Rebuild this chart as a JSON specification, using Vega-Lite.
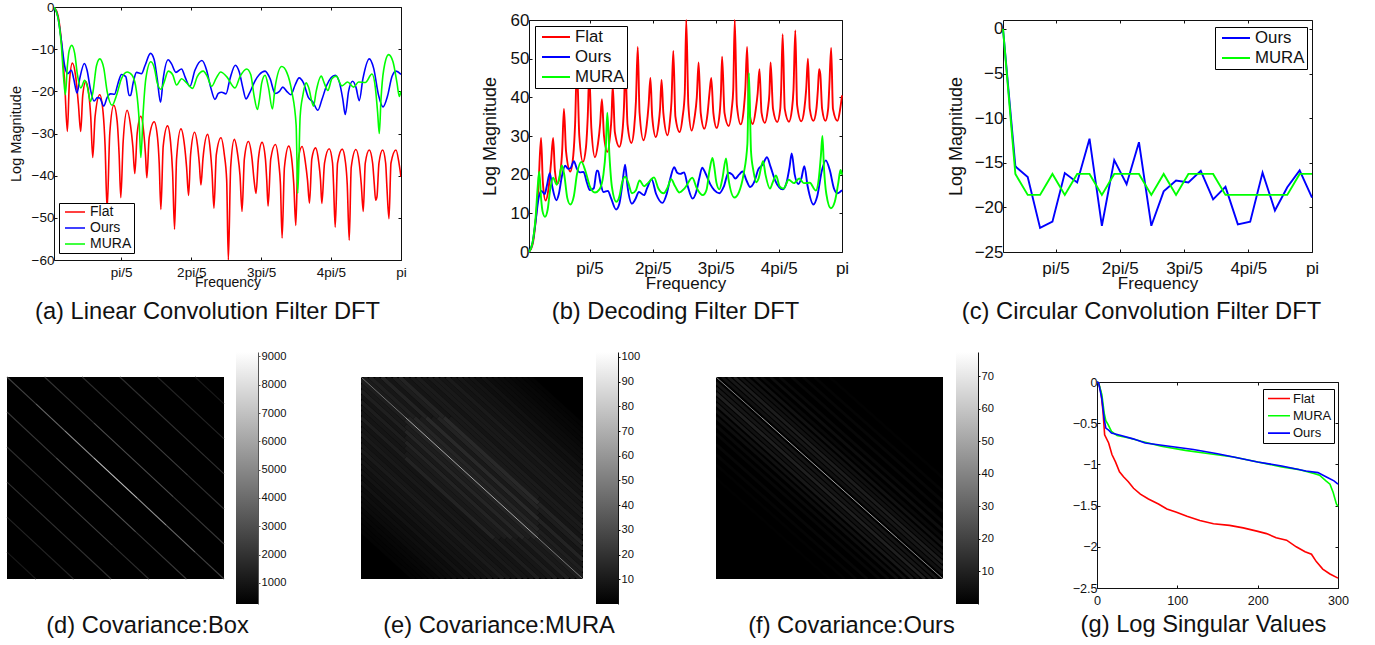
{"$schema":"https://vega.github.io/schema/vega-lite/v6.json","padding":{"left":0,"top":0,"right":0,"bottom":0},"background":"white","config":{"view":{"stroke":null},"font":"Liberation Sans","axis":{"grid":false,"labelFlush":false,"labelBound":false,"labelOverlap":false,"labelColor":"#111","titleColor":"#111","tickColor":"#111","domainColor":"#111","labelFontWeight":"normal","titleFontWeight":"normal"},"title":{"color":"#111"}},
"datasets":{
"a":[{"s":"Flat","k":0,"y":0},{"s":"Flat","k":12,"y":-2},{"s":"Flat","k":22,"y":-8},{"s":"Flat","k":32,"y":-18},{"s":"Flat","k":40,"y":-29.5},{"s":"Flat","k":46,"y":-18},{"s":"Flat","k":55,"y":-13.3},{"s":"Flat","k":65,"y":-16.5},{"s":"Flat","k":73,"y":-23},{"s":"Flat","k":80,"y":-29.5},{"s":"Flat","k":86,"y":-21},{"s":"Flat","k":95,"y":-17.7},{"s":"Flat","k":104,"y":-20.5},{"s":"Flat","k":110,"y":-26},{"s":"Flat","k":116,"y":-35.7},{"s":"Flat","k":123,"y":-26},{"s":"Flat","k":137,"y":-20.8},{"s":"Flat","k":147,"y":-25},{"s":"Flat","k":153,"y":-33},{"s":"Flat","k":159,"y":-48},{"s":"Flat","k":167,"y":-30},{"s":"Flat","k":179,"y":-23.3},{"s":"Flat","k":189,"y":-27},{"s":"Flat","k":195,"y":-35},{"s":"Flat","k":200,"y":-45.2},{"s":"Flat","k":207,"y":-32},{"s":"Flat","k":219,"y":-24.5},{"s":"Flat","k":229,"y":-28},{"s":"Flat","k":236,"y":-33},{"s":"Flat","k":242,"y":-39.5},{"s":"Flat","k":249,"y":-30},{"s":"Flat","k":260,"y":-25.9},{"s":"Flat","k":269,"y":-30},{"s":"Flat","k":274,"y":-35},{"s":"Flat","k":278,"y":-40.5},{"s":"Flat","k":285,"y":-31},{"s":"Flat","k":300,"y":-27.2},{"s":"Flat","k":310,"y":-31},{"s":"Flat","k":315,"y":-37},{"s":"Flat","k":320,"y":-48},{"s":"Flat","k":327,"y":-33},{"s":"Flat","k":340,"y":-28.2},{"s":"Flat","k":349,"y":-32},{"s":"Flat","k":355,"y":-39},{"s":"Flat","k":361,"y":-52.7},{"s":"Flat","k":367,"y":-36},{"s":"Flat","k":380,"y":-28.9},{"s":"Flat","k":391,"y":-33},{"s":"Flat","k":397,"y":-38},{"s":"Flat","k":403,"y":-44.7},{"s":"Flat","k":409,"y":-35},{"s":"Flat","k":421,"y":-29.7},{"s":"Flat","k":430,"y":-33},{"s":"Flat","k":435,"y":-37},{"s":"Flat","k":440,"y":-42.2},{"s":"Flat","k":446,"y":-36},{"s":"Flat","k":460,"y":-30.2},{"s":"Flat","k":468,"y":-34},{"s":"Flat","k":473,"y":-39},{"s":"Flat","k":479,"y":-47.7},{"s":"Flat","k":486,"y":-35},{"s":"Flat","k":500,"y":-31},{"s":"Flat","k":510,"y":-35},{"s":"Flat","k":517,"y":-41},{"s":"Flat","k":522,"y":-60},{"s":"Flat","k":529,"y":-38},{"s":"Flat","k":540,"y":-31.4},{"s":"Flat","k":550,"y":-35},{"s":"Flat","k":557,"y":-40},{"s":"Flat","k":563,"y":-48.5},{"s":"Flat","k":570,"y":-36},{"s":"Flat","k":582,"y":-31.9},{"s":"Flat","k":593,"y":-36},{"s":"Flat","k":599,"y":-41},{"s":"Flat","k":605,"y":-44.2},{"s":"Flat","k":612,"y":-36},{"s":"Flat","k":623,"y":-32.1},{"s":"Flat","k":633,"y":-36},{"s":"Flat","k":637,"y":-41},{"s":"Flat","k":641,"y":-47.2},{"s":"Flat","k":649,"y":-36},{"s":"Flat","k":663,"y":-32.6},{"s":"Flat","k":673,"y":-37},{"s":"Flat","k":678,"y":-42},{"s":"Flat","k":683,"y":-54.8},{"s":"Flat","k":690,"y":-38},{"s":"Flat","k":703,"y":-33},{"s":"Flat","k":713,"y":-37},{"s":"Flat","k":718,"y":-42},{"s":"Flat","k":724,"y":-51.8},{"s":"Flat","k":730,"y":-37},{"s":"Flat","k":743,"y":-33.1},{"s":"Flat","k":753,"y":-37},{"s":"Flat","k":759,"y":-41},{"s":"Flat","k":765,"y":-46.5},{"s":"Flat","k":772,"y":-36},{"s":"Flat","k":783,"y":-33.4},{"s":"Flat","k":793,"y":-37},{"s":"Flat","k":798,"y":-41},{"s":"Flat","k":802,"y":-46.6},{"s":"Flat","k":810,"y":-37},{"s":"Flat","k":824,"y":-33.6},{"s":"Flat","k":834,"y":-37},{"s":"Flat","k":837,"y":-42},{"s":"Flat","k":842,"y":-52.2},{"s":"Flat","k":849,"y":-37},{"s":"Flat","k":863,"y":-33.7},{"s":"Flat","k":873,"y":-37},{"s":"Flat","k":878,"y":-42},{"s":"Flat","k":884,"y":-55.3},{"s":"Flat","k":890,"y":-38},{"s":"Flat","k":904,"y":-33.8},{"s":"Flat","k":914,"y":-37},{"s":"Flat","k":920,"y":-42},{"s":"Flat","k":926,"y":-48.5},{"s":"Flat","k":932,"y":-37},{"s":"Flat","k":944,"y":-33.9},{"s":"Flat","k":954,"y":-37},{"s":"Flat","k":959,"y":-42},{"s":"Flat","k":963,"y":-45.8},{"s":"Flat","k":967,"y":-45},{"s":"Flat","k":973,"y":-37},{"s":"Flat","k":984,"y":-33.9},{"s":"Flat","k":993,"y":-37},{"s":"Flat","k":997,"y":-43},{"s":"Flat","k":1003,"y":-50.2},{"s":"Flat","k":1009,"y":-37},{"s":"Flat","k":1024,"y":-33.9},{"s":"Flat","k":1033,"y":-37},{"s":"Flat","k":1039,"y":-40.3},
{"s":"Ours","k":0,"y":0},{"s":"Ours","k":12,"y":-2.5},{"s":"Ours","k":22,"y":-8},{"s":"Ours","k":32,"y":-14},{"s":"Ours","k":41,"y":-15.8},{"s":"Ours","k":52,"y":-15},{"s":"Ours","k":59,"y":-17},{"s":"Ours","k":69,"y":-20.4},{"s":"Ours","k":77,"y":-17},{"s":"Ours","k":91,"y":-13.4},{"s":"Ours","k":99,"y":-15},{"s":"Ours","k":109,"y":-19.5},{"s":"Ours","k":120,"y":-22.3},{"s":"Ours","k":130,"y":-21.5},{"s":"Ours","k":137,"y":-21.6},{"s":"Ours","k":149,"y":-23.5},{"s":"Ours","k":159,"y":-21.5},{"s":"Ours","k":169,"y":-20.6},{"s":"Ours","k":181,"y":-20.7},{"s":"Ours","k":192,"y":-18},{"s":"Ours","k":202,"y":-16},{"s":"Ours","k":215,"y":-16.5},{"s":"Ours","k":225,"y":-21},{"s":"Ours","k":229,"y":-21},{"s":"Ours","k":237,"y":-18},{"s":"Ours","k":247,"y":-15.5},{"s":"Ours","k":262,"y":-15.8},{"s":"Ours","k":272,"y":-14},{"s":"Ours","k":289,"y":-11},{"s":"Ours","k":300,"y":-12.5},{"s":"Ours","k":309,"y":-17},{"s":"Ours","k":319,"y":-22.6},{"s":"Ours","k":327,"y":-17},{"s":"Ours","k":342,"y":-12.5},{"s":"Ours","k":352,"y":-13.5},{"s":"Ours","k":365,"y":-15.5},{"s":"Ours","k":382,"y":-14.7},{"s":"Ours","k":392,"y":-16.5},{"s":"Ours","k":407,"y":-18.8},{"s":"Ours","k":422,"y":-15},{"s":"Ours","k":443,"y":-12.7},{"s":"Ours","k":457,"y":-15},{"s":"Ours","k":469,"y":-19},{"s":"Ours","k":482,"y":-21.9},{"s":"Ours","k":492,"y":-20.5},{"s":"Ours","k":502,"y":-20.2},{"s":"Ours","k":515,"y":-20.6},{"s":"Ours","k":527,"y":-17},{"s":"Ours","k":543,"y":-13.8},{"s":"Ours","k":555,"y":-15.5},{"s":"Ours","k":565,"y":-19},{"s":"Ours","k":575,"y":-21.8},{"s":"Ours","k":585,"y":-20.5},{"s":"Ours","k":602,"y":-17.5},{"s":"Ours","k":615,"y":-16},{"s":"Ours","k":632,"y":-15.2},{"s":"Ours","k":647,"y":-17},{"s":"Ours","k":662,"y":-20.5},{"s":"Ours","k":675,"y":-20},{"s":"Ours","k":685,"y":-19},{"s":"Ours","k":697,"y":-20},{"s":"Ours","k":709,"y":-20.8},{"s":"Ours","k":722,"y":-18.5},{"s":"Ours","k":734,"y":-16.8},{"s":"Ours","k":747,"y":-18},{"s":"Ours","k":762,"y":-21.5},{"s":"Ours","k":775,"y":-22.5},{"s":"Ours","k":790,"y":-24.5},{"s":"Ours","k":802,"y":-22},{"s":"Ours","k":817,"y":-18.5},{"s":"Ours","k":842,"y":-16.2},{"s":"Ours","k":855,"y":-18},{"s":"Ours","k":865,"y":-22},{"s":"Ours","k":872,"y":-25.5},{"s":"Ours","k":882,"y":-20},{"s":"Ours","k":894,"y":-17.6},{"s":"Ours","k":904,"y":-19},{"s":"Ours","k":914,"y":-22.2},{"s":"Ours","k":925,"y":-17},{"s":"Ours","k":944,"y":-12.3},{"s":"Ours","k":957,"y":-14.5},{"s":"Ours","k":972,"y":-21},{"s":"Ours","k":985,"y":-23.7},{"s":"Ours","k":999,"y":-21},{"s":"Ours","k":1012,"y":-16.5},{"s":"Ours","k":1024,"y":-15.2},{"s":"Ours","k":1039,"y":-16},
{"s":"MURA","k":0,"y":0},{"s":"MURA","k":12,"y":-2.5},{"s":"MURA","k":22,"y":-9},{"s":"MURA","k":29,"y":-17},{"s":"MURA","k":34,"y":-20.8},{"s":"MURA","k":40,"y":-14},{"s":"MURA","k":45,"y":-10.5},{"s":"MURA","k":53,"y":-9.1},{"s":"MURA","k":62,"y":-11},{"s":"MURA","k":70,"y":-16},{"s":"MURA","k":80,"y":-19.2},{"s":"MURA","k":92,"y":-17.4},{"s":"MURA","k":100,"y":-19},{"s":"MURA","k":109,"y":-22.4},{"s":"MURA","k":117,"y":-20},{"s":"MURA","k":127,"y":-14},{"s":"MURA","k":137,"y":-12.3},{"s":"MURA","k":149,"y":-14.5},{"s":"MURA","k":159,"y":-20},{"s":"MURA","k":174,"y":-23.3},{"s":"MURA","k":187,"y":-21},{"s":"MURA","k":202,"y":-17},{"s":"MURA","k":219,"y":-15.4},{"s":"MURA","k":234,"y":-16.2},{"s":"MURA","k":247,"y":-20},{"s":"MURA","k":255,"y":-27},{"s":"MURA","k":260,"y":-35.7},{"s":"MURA","k":267,"y":-25},{"s":"MURA","k":275,"y":-17},{"s":"MURA","k":290,"y":-13},{"s":"MURA","k":302,"y":-15},{"s":"MURA","k":309,"y":-18},{"s":"MURA","k":320,"y":-19.5},{"s":"MURA","k":329,"y":-18},{"s":"MURA","k":342,"y":-15.2},{"s":"MURA","k":355,"y":-16},{"s":"MURA","k":367,"y":-18.5},{"s":"MURA","k":382,"y":-17},{"s":"MURA","k":397,"y":-18},{"s":"MURA","k":415,"y":-19.3},{"s":"MURA","k":429,"y":-16.5},{"s":"MURA","k":447,"y":-15.2},{"s":"MURA","k":459,"y":-16.5},{"s":"MURA","k":472,"y":-18.8},{"s":"MURA","k":485,"y":-17},{"s":"MURA","k":499,"y":-15.4},{"s":"MURA","k":517,"y":-16.5},{"s":"MURA","k":542,"y":-19.2},{"s":"MURA","k":557,"y":-16.5},{"s":"MURA","k":577,"y":-14.7},{"s":"MURA","k":589,"y":-16},{"s":"MURA","k":599,"y":-21},{"s":"MURA","k":609,"y":-24.3},{"s":"MURA","k":615,"y":-22},{"s":"MURA","k":622,"y":-18},{"s":"MURA","k":632,"y":-16.2},{"s":"MURA","k":642,"y":-19},{"s":"MURA","k":654,"y":-24.2},{"s":"MURA","k":662,"y":-19},{"s":"MURA","k":682,"y":-14.1},{"s":"MURA","k":697,"y":-15.5},{"s":"MURA","k":712,"y":-20},{"s":"MURA","k":725,"y":-28},{"s":"MURA","k":730,"y":-44.2},{"s":"MURA","k":737,"y":-26},{"s":"MURA","k":745,"y":-21},{"s":"MURA","k":755,"y":-18},{"s":"MURA","k":762,"y":-19},{"s":"MURA","k":777,"y":-23.5},{"s":"MURA","k":785,"y":-20},{"s":"MURA","k":800,"y":-16.4},{"s":"MURA","k":809,"y":-18},{"s":"MURA","k":820,"y":-19.8},{"s":"MURA","k":832,"y":-17},{"s":"MURA","k":845,"y":-16.4},{"s":"MURA","k":862,"y":-18.7},{"s":"MURA","k":879,"y":-17.8},{"s":"MURA","k":897,"y":-19},{"s":"MURA","k":912,"y":-17.8},{"s":"MURA","k":932,"y":-17.9},{"s":"MURA","k":952,"y":-15.9},{"s":"MURA","k":962,"y":-19},{"s":"MURA","k":969,"y":-25},{"s":"MURA","k":974,"y":-30},{"s":"MURA","k":979,"y":-22},{"s":"MURA","k":987,"y":-15},{"s":"MURA","k":1002,"y":-11.3},{"s":"MURA","k":1015,"y":-13},{"s":"MURA","k":1027,"y":-18},{"s":"MURA","k":1034,"y":-21.2},{"s":"MURA","k":1039,"y":-20}],
"b":[{"s":"Flat","k":0,"y":0},{"s":"Flat","k":12,"y":2},{"s":"Flat","k":22,"y":8},{"s":"Flat","k":32,"y":18},{"s":"Flat","k":40,"y":29.5},{"s":"Flat","k":46,"y":18},{"s":"Flat","k":55,"y":13.3},{"s":"Flat","k":65,"y":16.5},{"s":"Flat","k":73,"y":23},{"s":"Flat","k":80,"y":29.5},{"s":"Flat","k":86,"y":21},{"s":"Flat","k":95,"y":17.7},{"s":"Flat","k":104,"y":20.5},{"s":"Flat","k":110,"y":26},{"s":"Flat","k":116,"y":37},{"s":"Flat","k":123,"y":26},{"s":"Flat","k":137,"y":20.8},{"s":"Flat","k":147,"y":25},{"s":"Flat","k":153,"y":33},{"s":"Flat","k":159,"y":48},{"s":"Flat","k":167,"y":30},{"s":"Flat","k":179,"y":23.3},{"s":"Flat","k":189,"y":27},{"s":"Flat","k":195,"y":35},{"s":"Flat","k":200,"y":46},{"s":"Flat","k":207,"y":32},{"s":"Flat","k":219,"y":24.5},{"s":"Flat","k":229,"y":28},{"s":"Flat","k":236,"y":33},{"s":"Flat","k":242,"y":39.5},{"s":"Flat","k":249,"y":30},{"s":"Flat","k":260,"y":25.9},{"s":"Flat","k":269,"y":30},{"s":"Flat","k":274,"y":35},{"s":"Flat","k":278,"y":43},{"s":"Flat","k":285,"y":31},{"s":"Flat","k":300,"y":27.2},{"s":"Flat","k":310,"y":31},{"s":"Flat","k":315,"y":37},{"s":"Flat","k":320,"y":48},{"s":"Flat","k":327,"y":33},{"s":"Flat","k":340,"y":28.2},{"s":"Flat","k":349,"y":32},{"s":"Flat","k":355,"y":39},{"s":"Flat","k":361,"y":53},{"s":"Flat","k":367,"y":36},{"s":"Flat","k":380,"y":28.9},{"s":"Flat","k":391,"y":33},{"s":"Flat","k":397,"y":38},{"s":"Flat","k":403,"y":45},{"s":"Flat","k":409,"y":35},{"s":"Flat","k":421,"y":29.7},{"s":"Flat","k":430,"y":33},{"s":"Flat","k":435,"y":37},{"s":"Flat","k":440,"y":44.5},{"s":"Flat","k":446,"y":36},{"s":"Flat","k":460,"y":30.2},{"s":"Flat","k":468,"y":34},{"s":"Flat","k":473,"y":39},{"s":"Flat","k":479,"y":52},{"s":"Flat","k":486,"y":35},{"s":"Flat","k":500,"y":31},{"s":"Flat","k":510,"y":35},{"s":"Flat","k":517,"y":41},{"s":"Flat","k":522,"y":60},{"s":"Flat","k":529,"y":38},{"s":"Flat","k":540,"y":31.4},{"s":"Flat","k":550,"y":35},{"s":"Flat","k":557,"y":40},{"s":"Flat","k":563,"y":49},{"s":"Flat","k":570,"y":36},{"s":"Flat","k":582,"y":31.9},{"s":"Flat","k":593,"y":36},{"s":"Flat","k":599,"y":41},{"s":"Flat","k":605,"y":45},{"s":"Flat","k":612,"y":36},{"s":"Flat","k":623,"y":32.1},{"s":"Flat","k":633,"y":36},{"s":"Flat","k":637,"y":41},{"s":"Flat","k":641,"y":50.5},{"s":"Flat","k":649,"y":36},{"s":"Flat","k":663,"y":32.6},{"s":"Flat","k":673,"y":37},{"s":"Flat","k":678,"y":42},{"s":"Flat","k":683,"y":60},{"s":"Flat","k":690,"y":38},{"s":"Flat","k":703,"y":33},{"s":"Flat","k":713,"y":37},{"s":"Flat","k":718,"y":42},{"s":"Flat","k":724,"y":53},{"s":"Flat","k":730,"y":37},{"s":"Flat","k":743,"y":33.1},{"s":"Flat","k":753,"y":37},{"s":"Flat","k":759,"y":41},{"s":"Flat","k":765,"y":47.3},{"s":"Flat","k":772,"y":36},{"s":"Flat","k":783,"y":33.4},{"s":"Flat","k":793,"y":37},{"s":"Flat","k":798,"y":41},{"s":"Flat","k":802,"y":49},{"s":"Flat","k":810,"y":37},{"s":"Flat","k":824,"y":33.6},{"s":"Flat","k":834,"y":37},{"s":"Flat","k":837,"y":42},{"s":"Flat","k":842,"y":56.3},{"s":"Flat","k":849,"y":37},{"s":"Flat","k":863,"y":33.7},{"s":"Flat","k":873,"y":37},{"s":"Flat","k":878,"y":42},{"s":"Flat","k":884,"y":57.3},{"s":"Flat","k":890,"y":38},{"s":"Flat","k":904,"y":33.8},{"s":"Flat","k":914,"y":37},{"s":"Flat","k":920,"y":42},{"s":"Flat","k":926,"y":50},{"s":"Flat","k":932,"y":37},{"s":"Flat","k":944,"y":33.9},{"s":"Flat","k":954,"y":37},{"s":"Flat","k":959,"y":42},{"s":"Flat","k":963,"y":47.3},{"s":"Flat","k":967,"y":46},{"s":"Flat","k":973,"y":37},{"s":"Flat","k":984,"y":33.9},{"s":"Flat","k":993,"y":37},{"s":"Flat","k":997,"y":43},{"s":"Flat","k":1003,"y":52.8},{"s":"Flat","k":1009,"y":37},{"s":"Flat","k":1024,"y":33.9},{"s":"Flat","k":1033,"y":37},{"s":"Flat","k":1039,"y":40.5},
{"s":"Ours","k":0,"y":0},{"s":"Ours","k":12,"y":2.5},{"s":"Ours","k":22,"y":8},{"s":"Ours","k":32,"y":14},{"s":"Ours","k":41,"y":15.8},{"s":"Ours","k":52,"y":15},{"s":"Ours","k":59,"y":17},{"s":"Ours","k":69,"y":20.4},{"s":"Ours","k":77,"y":17},{"s":"Ours","k":91,"y":13.4},{"s":"Ours","k":99,"y":15},{"s":"Ours","k":109,"y":19.5},{"s":"Ours","k":120,"y":22.3},{"s":"Ours","k":130,"y":21.5},{"s":"Ours","k":137,"y":21.6},{"s":"Ours","k":149,"y":23.5},{"s":"Ours","k":159,"y":21.5},{"s":"Ours","k":169,"y":20.6},{"s":"Ours","k":181,"y":20.7},{"s":"Ours","k":192,"y":18},{"s":"Ours","k":202,"y":16},{"s":"Ours","k":215,"y":16.5},{"s":"Ours","k":225,"y":21},{"s":"Ours","k":229,"y":21},{"s":"Ours","k":237,"y":18},{"s":"Ours","k":247,"y":15.5},{"s":"Ours","k":262,"y":15.8},{"s":"Ours","k":272,"y":14},{"s":"Ours","k":289,"y":11},{"s":"Ours","k":300,"y":12.5},{"s":"Ours","k":309,"y":17},{"s":"Ours","k":319,"y":22.6},{"s":"Ours","k":327,"y":17},{"s":"Ours","k":342,"y":12.5},{"s":"Ours","k":352,"y":13.5},{"s":"Ours","k":365,"y":15.5},{"s":"Ours","k":382,"y":14.7},{"s":"Ours","k":392,"y":16.5},{"s":"Ours","k":407,"y":18.8},{"s":"Ours","k":422,"y":15},{"s":"Ours","k":443,"y":12.7},{"s":"Ours","k":457,"y":15},{"s":"Ours","k":469,"y":19},{"s":"Ours","k":482,"y":21.9},{"s":"Ours","k":492,"y":20.5},{"s":"Ours","k":502,"y":20.2},{"s":"Ours","k":515,"y":20.6},{"s":"Ours","k":527,"y":17},{"s":"Ours","k":543,"y":13.8},{"s":"Ours","k":555,"y":15.5},{"s":"Ours","k":565,"y":19},{"s":"Ours","k":575,"y":21.8},{"s":"Ours","k":585,"y":20.5},{"s":"Ours","k":602,"y":17.5},{"s":"Ours","k":615,"y":16},{"s":"Ours","k":632,"y":15.2},{"s":"Ours","k":647,"y":17},{"s":"Ours","k":662,"y":20.5},{"s":"Ours","k":675,"y":20},{"s":"Ours","k":685,"y":19},{"s":"Ours","k":697,"y":20},{"s":"Ours","k":709,"y":20.8},{"s":"Ours","k":722,"y":18.5},{"s":"Ours","k":734,"y":16.8},{"s":"Ours","k":747,"y":18},{"s":"Ours","k":762,"y":21.5},{"s":"Ours","k":775,"y":22.5},{"s":"Ours","k":790,"y":24.5},{"s":"Ours","k":802,"y":22},{"s":"Ours","k":817,"y":18.5},{"s":"Ours","k":842,"y":16.2},{"s":"Ours","k":855,"y":18},{"s":"Ours","k":865,"y":22},{"s":"Ours","k":872,"y":25.5},{"s":"Ours","k":882,"y":20},{"s":"Ours","k":894,"y":17.6},{"s":"Ours","k":904,"y":19},{"s":"Ours","k":914,"y":22.2},{"s":"Ours","k":925,"y":17},{"s":"Ours","k":944,"y":12.3},{"s":"Ours","k":957,"y":14.5},{"s":"Ours","k":972,"y":21},{"s":"Ours","k":985,"y":23.7},{"s":"Ours","k":999,"y":21},{"s":"Ours","k":1012,"y":16.5},{"s":"Ours","k":1024,"y":15.2},{"s":"Ours","k":1039,"y":16},
{"s":"MURA","k":0,"y":0},{"s":"MURA","k":12,"y":2.5},{"s":"MURA","k":22,"y":9},{"s":"MURA","k":29,"y":17},{"s":"MURA","k":34,"y":20.8},{"s":"MURA","k":40,"y":14},{"s":"MURA","k":45,"y":10.5},{"s":"MURA","k":53,"y":9.1},{"s":"MURA","k":62,"y":11},{"s":"MURA","k":70,"y":16},{"s":"MURA","k":80,"y":19.2},{"s":"MURA","k":92,"y":17.4},{"s":"MURA","k":100,"y":19},{"s":"MURA","k":109,"y":22.4},{"s":"MURA","k":117,"y":20},{"s":"MURA","k":127,"y":14},{"s":"MURA","k":137,"y":12.3},{"s":"MURA","k":149,"y":14.5},{"s":"MURA","k":159,"y":20},{"s":"MURA","k":174,"y":23.3},{"s":"MURA","k":187,"y":21},{"s":"MURA","k":202,"y":17},{"s":"MURA","k":219,"y":15.4},{"s":"MURA","k":234,"y":16.2},{"s":"MURA","k":247,"y":20},{"s":"MURA","k":255,"y":27},{"s":"MURA","k":260,"y":36},{"s":"MURA","k":267,"y":25},{"s":"MURA","k":275,"y":17},{"s":"MURA","k":290,"y":13},{"s":"MURA","k":302,"y":15},{"s":"MURA","k":309,"y":18},{"s":"MURA","k":320,"y":19.5},{"s":"MURA","k":329,"y":18},{"s":"MURA","k":342,"y":15.2},{"s":"MURA","k":355,"y":16},{"s":"MURA","k":367,"y":18.5},{"s":"MURA","k":382,"y":17},{"s":"MURA","k":397,"y":18},{"s":"MURA","k":415,"y":19.3},{"s":"MURA","k":429,"y":16.5},{"s":"MURA","k":447,"y":15.2},{"s":"MURA","k":459,"y":16.5},{"s":"MURA","k":472,"y":18.8},{"s":"MURA","k":485,"y":17},{"s":"MURA","k":499,"y":15.4},{"s":"MURA","k":517,"y":16.5},{"s":"MURA","k":542,"y":19.2},{"s":"MURA","k":557,"y":16.5},{"s":"MURA","k":577,"y":14.7},{"s":"MURA","k":589,"y":16},{"s":"MURA","k":599,"y":21},{"s":"MURA","k":609,"y":24.3},{"s":"MURA","k":615,"y":22},{"s":"MURA","k":622,"y":18},{"s":"MURA","k":632,"y":16.2},{"s":"MURA","k":642,"y":19},{"s":"MURA","k":654,"y":24.2},{"s":"MURA","k":662,"y":19},{"s":"MURA","k":682,"y":14.1},{"s":"MURA","k":697,"y":15.5},{"s":"MURA","k":712,"y":20},{"s":"MURA","k":725,"y":28},{"s":"MURA","k":730,"y":46.3},{"s":"MURA","k":737,"y":26},{"s":"MURA","k":745,"y":21},{"s":"MURA","k":755,"y":18},{"s":"MURA","k":762,"y":19},{"s":"MURA","k":777,"y":23.5},{"s":"MURA","k":785,"y":20},{"s":"MURA","k":800,"y":16.4},{"s":"MURA","k":809,"y":18},{"s":"MURA","k":820,"y":19.8},{"s":"MURA","k":832,"y":17},{"s":"MURA","k":845,"y":16.4},{"s":"MURA","k":862,"y":18.7},{"s":"MURA","k":879,"y":17.8},{"s":"MURA","k":897,"y":19},{"s":"MURA","k":912,"y":17.8},{"s":"MURA","k":932,"y":17.9},{"s":"MURA","k":952,"y":15.9},{"s":"MURA","k":962,"y":19},{"s":"MURA","k":969,"y":25},{"s":"MURA","k":974,"y":30},{"s":"MURA","k":979,"y":22},{"s":"MURA","k":987,"y":15},{"s":"MURA","k":1002,"y":11.3},{"s":"MURA","k":1015,"y":13},{"s":"MURA","k":1027,"y":18},{"s":"MURA","k":1034,"y":21.2},{"s":"MURA","k":1039,"y":20}],
"c":[{"s":"Ours","k":0,"y":0},{"s":"Ours","k":1,"y":-15.4},{"s":"Ours","k":2,"y":-16.6},{"s":"Ours","k":3,"y":-22.3},{"s":"Ours","k":4,"y":-21.6},{"s":"Ours","k":5,"y":-16.15},{"s":"Ours","k":6,"y":-17.2},{"s":"Ours","k":7,"y":-12.3},{"s":"Ours","k":8,"y":-22.06},{"s":"Ours","k":9,"y":-14.7},{"s":"Ours","k":10,"y":-17.4},{"s":"Ours","k":11,"y":-12.7},{"s":"Ours","k":12,"y":-22.06},{"s":"Ours","k":13,"y":-18.2},{"s":"Ours","k":14,"y":-17},{"s":"Ours","k":15,"y":-17.2},{"s":"Ours","k":16,"y":-15.9},{"s":"Ours","k":17,"y":-19.1},{"s":"Ours","k":18,"y":-17.7},{"s":"Ours","k":19,"y":-21.9},{"s":"Ours","k":20,"y":-21.6},{"s":"Ours","k":21,"y":-16.1},{"s":"Ours","k":22,"y":-20.35},{"s":"Ours","k":23,"y":-17.75},{"s":"Ours","k":24,"y":-15.85},{"s":"Ours","k":25,"y":-18.9},
{"s":"MURA","k":0,"y":0},{"s":"MURA","k":1,"y":-16.25},{"s":"MURA","k":2,"y":-18.6},{"s":"MURA","k":3,"y":-18.6},{"s":"MURA","k":4,"y":-16.25},{"s":"MURA","k":5,"y":-18.6},{"s":"MURA","k":6,"y":-16.25},{"s":"MURA","k":7,"y":-16.25},{"s":"MURA","k":8,"y":-18.6},{"s":"MURA","k":9,"y":-16.25},{"s":"MURA","k":10,"y":-16.25},{"s":"MURA","k":11,"y":-16.25},{"s":"MURA","k":12,"y":-18.6},{"s":"MURA","k":13,"y":-16.25},{"s":"MURA","k":14,"y":-18.6},{"s":"MURA","k":15,"y":-16.25},{"s":"MURA","k":16,"y":-16.25},{"s":"MURA","k":17,"y":-16.25},{"s":"MURA","k":18,"y":-18.6},{"s":"MURA","k":19,"y":-18.6},{"s":"MURA","k":20,"y":-18.6},{"s":"MURA","k":21,"y":-18.6},{"s":"MURA","k":22,"y":-18.6},{"s":"MURA","k":23,"y":-18.6},{"s":"MURA","k":24,"y":-16.25},{"s":"MURA","k":25,"y":-16.25}],
"g":[{"s":"Flat","k":0,"y":0},{"s":"Flat","k":2,"y":-0.01},{"s":"Flat","k":5,"y":-0.13},{"s":"Flat","k":7.5,"y":-0.36},{"s":"Flat","k":9.5,"y":-0.64},{"s":"Flat","k":14.5,"y":-0.74},{"s":"Flat","k":18.6,"y":-0.88},{"s":"Flat","k":23,"y":-0.97},{"s":"Flat","k":28,"y":-1.09},{"s":"Flat","k":33,"y":-1.15},{"s":"Flat","k":39,"y":-1.21},{"s":"Flat","k":45.5,"y":-1.29},{"s":"Flat","k":54,"y":-1.36},{"s":"Flat","k":64,"y":-1.42},{"s":"Flat","k":76.5,"y":-1.48},{"s":"Flat","k":87,"y":-1.54},{"s":"Flat","k":99,"y":-1.58},{"s":"Flat","k":112,"y":-1.63},{"s":"Flat","k":128,"y":-1.68},{"s":"Flat","k":145,"y":-1.72},{"s":"Flat","k":165,"y":-1.74},{"s":"Flat","k":182,"y":-1.77},{"s":"Flat","k":199,"y":-1.81},{"s":"Flat","k":211,"y":-1.84},{"s":"Flat","k":223,"y":-1.89},{"s":"Flat","k":236,"y":-1.92},{"s":"Flat","k":248,"y":-2},{"s":"Flat","k":259,"y":-2.06},{"s":"Flat","k":267,"y":-2.09},{"s":"Flat","k":273,"y":-2.18},{"s":"Flat","k":281,"y":-2.27},{"s":"Flat","k":290,"y":-2.33},{"s":"Flat","k":300,"y":-2.38},
{"s":"MURA","k":0,"y":0},{"s":"MURA","k":2,"y":-0.01},{"s":"MURA","k":6,"y":-0.15},{"s":"MURA","k":9,"y":-0.38},{"s":"MURA","k":11,"y":-0.47},{"s":"MURA","k":14,"y":-0.52},{"s":"MURA","k":18,"y":-0.6},{"s":"MURA","k":25,"y":-0.65},{"s":"MURA","k":40,"y":-0.68},{"s":"MURA","k":55,"y":-0.72},{"s":"MURA","k":80,"y":-0.78},{"s":"MURA","k":110,"y":-0.83},{"s":"MURA","k":140,"y":-0.87},{"s":"MURA","k":170,"y":-0.91},{"s":"MURA","k":200,"y":-0.97},{"s":"MURA","k":230,"y":-1.03},{"s":"MURA","k":250,"y":-1.06},{"s":"MURA","k":270,"y":-1.11},{"s":"MURA","k":277,"y":-1.13},{"s":"MURA","k":285,"y":-1.2},{"s":"MURA","k":290,"y":-1.24},{"s":"MURA","k":294,"y":-1.34},{"s":"MURA","k":298,"y":-1.48},{"s":"MURA","k":300,"y":-1.51},
{"s":"Ours","k":0,"y":0},{"s":"Ours","k":2,"y":-0.01},{"s":"Ours","k":6,"y":-0.2},{"s":"Ours","k":9,"y":-0.45},{"s":"Ours","k":11,"y":-0.56},{"s":"Ours","k":14,"y":-0.58},{"s":"Ours","k":18,"y":-0.62},{"s":"Ours","k":30,"y":-0.65},{"s":"Ours","k":45,"y":-0.69},{"s":"Ours","k":60,"y":-0.74},{"s":"Ours","k":90,"y":-0.78},{"s":"Ours","k":120,"y":-0.82},{"s":"Ours","k":150,"y":-0.87},{"s":"Ours","k":170,"y":-0.91},{"s":"Ours","k":200,"y":-0.97},{"s":"Ours","k":230,"y":-1.02},{"s":"Ours","k":260,"y":-1.08},{"s":"Ours","k":275,"y":-1.1},{"s":"Ours","k":285,"y":-1.15},{"s":"Ours","k":295,"y":-1.2},{"s":"Ours","k":300,"y":-1.24}],
"dline":[{"x":0,"y":0,"x2":40,"y2":40,"v":2500},{"x":40,"y":40,"x2":80,"y2":80,"v":4000},{"x":80,"y":80,"x2":120,"y2":120,"v":5500},{"x":120,"y":120,"x2":180,"y2":180,"v":7000},{"x":180,"y":180,"x2":220,"y2":220,"v":5500},{"x":220,"y":220,"x2":260,"y2":260,"v":4000},{"x":260,"y":260,"x2":300,"y2":300,"v":2500},
{"x":52,"y":0,"x2":120,"y2":68,"v":2000},{"x":120,"y":68,"x2":230,"y2":178,"v":3000},{"x":230,"y":178,"x2":300,"y2":248,"v":2100},{"x":104,"y":0,"x2":170,"y2":66,"v":1700},{"x":170,"y":66,"x2":250,"y2":146,"v":2400},{"x":250,"y":146,"x2":300,"y2":196,"v":1800},{"x":156,"y":0,"x2":300,"y2":144,"v":1800},{"x":208,"y":0,"x2":300,"y2":92,"v":1300},{"x":260,"y":0,"x2":300,"y2":40,"v":800},
{"x":0,"y":52,"x2":68,"y2":120,"v":2100},{"x":68,"y":120,"x2":178,"y2":230,"v":3200},{"x":178,"y":230,"x2":248,"y2":300,"v":2100},{"x":0,"y":104,"x2":66,"y2":170,"v":1700},{"x":66,"y":170,"x2":146,"y2":250,"v":2400},{"x":146,"y":250,"x2":196,"y2":300,"v":1700},{"x":0,"y":156,"x2":144,"y2":300,"v":1800},{"x":0,"y":208,"x2":92,"y2":300,"v":1300},{"x":0,"y":260,"x2":40,"y2":300,"v":800}],
"eband":[{"x":228,"y":0,"x2":300,"y2":72,"v":1},{"x":0,"y":228,"x2":72,"y2":300,"v":1},{"x":220,"y":0,"x2":300,"y2":80,"v":1.5},{"x":0,"y":220,"x2":80,"y2":300,"v":1},{"x":212,"y":0,"x2":300,"y2":88,"v":2},{"x":0,"y":212,"x2":88,"y2":300,"v":1.5},{"x":204,"y":0,"x2":300,"y2":96,"v":2},{"x":0,"y":204,"x2":96,"y2":300,"v":2},{"x":196,"y":0,"x2":300,"y2":104,"v":2.5},{"x":0,"y":196,"x2":104,"y2":300,"v":2},{"x":188,"y":0,"x2":300,"y2":112,"v":3},{"x":0,"y":188,"x2":112,"y2":300,"v":3},{"x":180,"y":0,"x2":300,"y2":120,"v":3.5},{"x":0,"y":180,"x2":120,"y2":300,"v":3},{"x":172,"y":0,"x2":300,"y2":128,"v":3.5},{"x":0,"y":172,"x2":128,"y2":300,"v":4},{"x":164,"y":0,"x2":300,"y2":136,"v":5},{"x":0,"y":164,"x2":136,"y2":300,"v":3.5},{"x":156,"y":0,"x2":300,"y2":144,"v":4},{"x":0,"y":156,"x2":144,"y2":300,"v":5.5},{"x":148,"y":0,"x2":300,"y2":152,"v":6},{"x":0,"y":148,"x2":152,"y2":300,"v":4},{"x":140,"y":0,"x2":300,"y2":160,"v":5.5},{"x":0,"y":140,"x2":160,"y2":300,"v":6},{"x":132,"y":0,"x2":300,"y2":168,"v":7.5},{"x":0,"y":132,"x2":168,"y2":300,"v":5},{"x":124,"y":0,"x2":300,"y2":176,"v":6},{"x":0,"y":124,"x2":176,"y2":300,"v":7.5},{"x":116,"y":0,"x2":300,"y2":184,"v":9.5},{"x":0,"y":116,"x2":184,"y2":300,"v":6},{"x":108,"y":0,"x2":300,"y2":192,"v":7},{"x":0,"y":108,"x2":192,"y2":300,"v":9.5},{"x":100,"y":0,"x2":300,"y2":200,"v":9},{"x":0,"y":100,"x2":200,"y2":300,"v":8},
{"x":92,"y":0,"x2":300,"y2":208,"v":9},{"x":0,"y":92,"x2":208,"y2":300,"v":6},{"x":84,"y":0,"x2":300,"y2":216,"v":6.5},{"x":0,"y":84,"x2":216,"y2":300,"v":9},{"x":76,"y":0,"x2":300,"y2":224,"v":10},{"x":0,"y":76,"x2":224,"y2":300,"v":7.5},{"x":68,"y":0,"x2":300,"y2":232,"v":9},{"x":0,"y":68,"x2":232,"y2":300,"v":6.5},
{"x":60,"y":0,"x2":120,"y2":60,"v":7},{"x":120,"y":60,"x2":240,"y2":180,"v":9},{"x":240,"y":180,"x2":300,"y2":240,"v":7},{"x":0,"y":60,"x2":60,"y2":120,"v":11},{"x":60,"y":120,"x2":180,"y2":240,"v":14},{"x":180,"y":240,"x2":240,"y2":300,"v":11},
{"x":52,"y":0,"x2":112,"y2":60,"v":14},{"x":112,"y":60,"x2":240,"y2":188,"v":17},{"x":240,"y":188,"x2":300,"y2":248,"v":14},{"x":0,"y":52,"x2":60,"y2":112,"v":7},{"x":60,"y":112,"x2":188,"y2":240,"v":9},{"x":188,"y":240,"x2":248,"y2":300,"v":7},
{"x":44,"y":0,"x2":104,"y2":60,"v":11},{"x":104,"y":60,"x2":240,"y2":196,"v":14},{"x":240,"y":196,"x2":300,"y2":256,"v":11},{"x":0,"y":44,"x2":60,"y2":104,"v":8},{"x":60,"y":104,"x2":196,"y2":240,"v":10},{"x":196,"y":240,"x2":256,"y2":300,"v":8},
{"x":36,"y":0,"x2":96,"y2":60,"v":7},{"x":96,"y":60,"x2":240,"y2":204,"v":9},{"x":240,"y":204,"x2":300,"y2":264,"v":7},{"x":0,"y":36,"x2":60,"y2":96,"v":11},{"x":60,"y":96,"x2":204,"y2":240,"v":14},{"x":204,"y":240,"x2":264,"y2":300,"v":11},
{"x":28,"y":0,"x2":88,"y2":60,"v":14},{"x":88,"y":60,"x2":240,"y2":212,"v":17},{"x":240,"y":212,"x2":300,"y2":272,"v":14},{"x":0,"y":28,"x2":60,"y2":88,"v":7},{"x":60,"y":88,"x2":212,"y2":240,"v":9},{"x":212,"y":240,"x2":272,"y2":300,"v":7},
{"x":20,"y":0,"x2":80,"y2":60,"v":8},{"x":80,"y":60,"x2":240,"y2":220,"v":10},{"x":240,"y":220,"x2":300,"y2":280,"v":8},{"x":0,"y":20,"x2":60,"y2":80,"v":12},{"x":60,"y":80,"x2":220,"y2":240,"v":15},{"x":220,"y":240,"x2":280,"y2":300,"v":12},
{"x":12,"y":0,"x2":72,"y2":60,"v":12},{"x":72,"y":60,"x2":240,"y2":228,"v":15},{"x":240,"y":228,"x2":300,"y2":288,"v":12},{"x":0,"y":12,"x2":60,"y2":72,"v":9},{"x":60,"y":72,"x2":228,"y2":240,"v":11},{"x":228,"y":240,"x2":288,"y2":300,"v":9},
{"x":4,"y":0,"x2":64,"y2":60,"v":10},{"x":64,"y":60,"x2":240,"y2":236,"v":13},{"x":240,"y":236,"x2":300,"y2":296,"v":10},{"x":0,"y":4,"x2":60,"y2":64,"v":11},{"x":60,"y":64,"x2":236,"y2":240,"v":14},{"x":236,"y":240,"x2":296,"y2":300,"v":11}],
"eline":[{"x":0,"y":0,"x2":60,"y2":60,"v":48},{"x":60,"y":60,"x2":240,"y2":240,"v":70},{"x":240,"y":240,"x2":300,"y2":300,"v":52}],
"fband":[{"x":150,"y":0,"x2":300,"y2":150,"v":0.7},{"x":0,"y":150,"x2":150,"y2":300,"v":0.5},{"x":130,"y":0,"x2":300,"y2":170,"v":1},{"x":0,"y":130,"x2":170,"y2":300,"v":0.7},{"x":115,"y":0,"x2":300,"y2":185,"v":1.4},{"x":0,"y":115,"x2":185,"y2":300,"v":1},{"x":100,"y":0,"x2":300,"y2":200,"v":1.8},{"x":0,"y":100,"x2":200,"y2":300,"v":1.4},{"x":84,"y":0,"x2":300,"y2":216,"v":2},{"x":0,"y":84,"x2":216,"y2":300,"v":1.4},{"x":72,"y":0,"x2":300,"y2":228,"v":2.8},{"x":0,"y":72,"x2":228,"y2":300,"v":2},{"x":60,"y":0,"x2":300,"y2":240,"v":2},{"x":0,"y":60,"x2":240,"y2":300,"v":2.8},{"x":50,"y":0,"x2":300,"y2":250,"v":4},{"x":0,"y":50,"x2":250,"y2":300,"v":3.5},{"x":40,"y":0,"x2":300,"y2":260,"v":3.5},{"x":0,"y":40,"x2":260,"y2":300,"v":6},{"x":32,"y":0,"x2":300,"y2":268,"v":4},{"x":0,"y":32,"x2":268,"y2":300,"v":4},{"x":24,"y":0,"x2":300,"y2":276,"v":8},{"x":0,"y":24,"x2":276,"y2":300,"v":9},{"x":16,"y":0,"x2":300,"y2":284,"v":6},{"x":0,"y":16,"x2":284,"y2":300,"v":5.5},{"x":8,"y":0,"x2":300,"y2":292,"v":4},{"x":0,"y":8,"x2":292,"y2":300,"v":5}],
"fline":[{"x":0,"y":0,"x2":60,"y2":60,"v":42},{"x":60,"y":60,"x2":240,"y2":240,"v":52},{"x":240,"y":240,"x2":300,"y2":300,"v":44}]
},
"vconcat":[
{"resolve":{"scale":{"color":"independent"},"legend":{"color":"independent"}},"hconcat":[
{"width":54,"height":1,"data":{"values":[]},"mark":"rect","encoding":{}},
{"width":347,"height":253,"title":{"text":"(a) Linear Convolution Filter DFT","orient":"bottom","anchor":"middle","frame":"group","fontSize":23.7,"fontWeight":"normal","offset":10,"dx":-20},
"layer":[{"data":{"name":"a"},"mark":{"type":"line","strokeWidth":1.6,"interpolate":"monotone","clip":true},"encoding":{"x":{"field":"k","type":"quantitative","title":"Frequency","scale":{"domain":[0,1039],"nice":false,"zero":false},"axis":{"orient":"bottom","values":[201,411,620,829,1039],"labelExpr":"['pi/5','2pi/5','3pi/5','4pi/5','pi'][round(datum.value/208)-1]","tickSize":-3,"labelFontSize":13.5,"titleFontSize":14,"labelPadding":8,"titlePadding":-3}},"y":{"field":"y","type":"quantitative","title":"Log Magnitude","scale":{"domain":[-60,0],"nice":false,"zero":false},"axis":{"orient":"left","values":[-60,-50,-40,-30,-20,-10,0],"tickSize":-3,"labelFontSize":13.5,"titleFontSize":14.5,"labelPadding":3,"titlePadding":8}},"color":{"field":"s","type":"nominal","scale":{"domain":["Flat","Ours","MURA"],"range":["#ff0000","#0000ff","#00ff00"]},"legend":{"orient":"none","legendX":5,"legendY":196,"title":null,"strokeColor":"black","fillColor":"white","padding":2,"labelFontSize":14,"symbolSize":400,"symbolStrokeWidth":1.6,"symbolOffset":3,"clipHeight":14,"rowPadding":2,"zindex":1,"labelOffset":4,"labelColor":"#111"}}}},
{"data":{"values":[{"k":0,"y":0}]},"mark":{"type":"point","opacity":0},"encoding":{"x":{"field":"k","type":"quantitative","scale":{"domain":[0,1039],"nice":false,"zero":false},"axis":{"orient":"top","values":[201,411,620,829,1039],"labels":false,"title":null,"tickSize":-3}},"y":{"field":"y","type":"quantitative","scale":{"domain":[-60,0],"nice":false,"zero":false},"axis":{"orient":"right","values":[-60,-50,-40,-30,-20,-10,0],"labels":false,"title":null,"tickSize":-3}}}}],"resolve":{"axis":{"x":"independent","y":"independent"}}},
{"width":128,"height":1,"data":{"values":[]},"mark":"rect","encoding":{}},
{"width":313,"height":253,"title":{"text":"(b) Decoding Filter DFT","orient":"bottom","anchor":"middle","frame":"group","fontSize":23.7,"fontWeight":"normal","offset":9,"dx":-10},
"layer":[{"data":{"name":"b"},"mark":{"type":"line","strokeWidth":1.9,"interpolate":"monotone"},"encoding":{"x":{"field":"k","type":"quantitative","title":"Frequency","scale":{"domain":[0,1039],"nice":false,"zero":false},"axis":{"orient":"bottom","offset":-8,"values":[201,411,620,829,1039],"labelExpr":"['pi/5','2pi/5','3pi/5','4pi/5','pi'][round(datum.value/208)-1]","tickSize":-3,"labelFontSize":17,"titleFontSize":17,"labelPadding":11,"titlePadding":-1}},"y":{"field":"y","type":"quantitative","title":"Log Magnitude","scale":{"domain":[0,60],"range":[245,13],"nice":false,"zero":false},"axis":{"orient":"left","values":[0,10,20,30,40,50,60],"tickSize":-3,"labelFontSize":17,"titleFontSize":18,"labelPadding":3,"titlePadding":11}},"color":{"field":"s","type":"nominal","scale":{"domain":["Flat","Ours","MURA"],"range":["#ff0000","#0000ff","#00ff00"]},"legend":{"orient":"none","legendX":6,"legendY":19,"title":null,"strokeColor":"black","fillColor":"white","padding":2,"labelFontSize":16.8,"symbolSize":784,"symbolStrokeWidth":1.9,"symbolOffset":4,"clipHeight":18,"rowPadding":2,"zindex":1,"labelOffset":4,"labelColor":"#111"}}}},
{"data":{"values":[{"k":0,"y":0}]},"mark":{"type":"point","opacity":0},"encoding":{"x":{"field":"k","type":"quantitative","scale":{"domain":[0,1039],"nice":false,"zero":false},"axis":{"orient":"top","offset":-13,"values":[201,411,620,829,1039],"labels":false,"title":null,"tickSize":-3}},"y":{"field":"y","type":"quantitative","scale":{"domain":[0,60],"range":[245,13],"nice":false,"zero":false},"axis":{"orient":"right","values":[0,10,20,30,40,50,60],"labels":false,"title":null,"tickSize":-3}}}}],"resolve":{"axis":{"x":"independent","y":"independent"}}},
{"width":161,"height":1,"data":{"values":[]},"mark":"rect","encoding":{}},
{"width":309,"height":253,"title":{"text":"(c) Circular Convolution Filter DFT","orient":"bottom","anchor":"middle","frame":"group","fontSize":23.7,"fontWeight":"normal","offset":9,"dx":-16},
"layer":[{"data":{"name":"c"},"mark":{"type":"line","strokeWidth":1.9},"encoding":{"x":{"field":"k","type":"quantitative","title":"Frequency","scale":{"domain":[0,25],"nice":false,"zero":false},"axis":{"orient":"bottom","offset":-8,"values":[4.25,9.45,14.65,19.85,25],"labelExpr":"['pi/5','2pi/5','3pi/5','4pi/5','pi'][round((datum.value+1)/5.2)-1]","tickSize":-3,"labelFontSize":17,"titleFontSize":17,"labelPadding":11,"titlePadding":-1}},"y":{"field":"y","type":"quantitative","title":"Log Magnitude","scale":{"domain":[-25,1],"range":[245,13],"nice":false,"zero":false},"axis":{"orient":"left","values":[-25,-20,-15,-10,-5,0],"tickSize":-3,"labelFontSize":17,"titleFontSize":18,"labelPadding":3,"titlePadding":9}},"color":{"field":"s","type":"nominal","scale":{"domain":["Ours","MURA"],"range":["#0000ff","#00ff00"]},"legend":{"orient":"none","legendX":212,"legendY":20,"title":null,"strokeColor":"black","fillColor":"white","padding":2,"labelFontSize":16.8,"symbolSize":784,"symbolStrokeWidth":1.9,"symbolOffset":4,"clipHeight":18,"rowPadding":2,"zindex":1,"labelOffset":4,"labelColor":"#111"}}}},
{"data":{"values":[{"k":0,"y":0}]},"mark":{"type":"point","opacity":0},"encoding":{"x":{"field":"k","type":"quantitative","scale":{"domain":[0,25],"nice":false,"zero":false},"axis":{"orient":"top","offset":-13,"values":[4.25,9.45,14.65,19.85,25],"labels":false,"title":null,"tickSize":-3}},"y":{"field":"y","type":"quantitative","scale":{"domain":[-25,1],"range":[245,13],"nice":false,"zero":false},"axis":{"orient":"right","values":[-25,-20,-15,-10,-5,0],"labels":false,"title":null,"tickSize":-3}}}}],"resolve":{"axis":{"x":"independent","y":"independent"}}}
],"spacing":0,"bounds":"flush"},
{"resolve":{"scale":{"color":"independent"},"legend":{"color":"independent"}},"hconcat":[
{"width":7,"height":1,"data":{"values":[]},"mark":"rect","encoding":{}},
{"width":217,"height":252,"title":{"text":"(d) Covariance:Box","orient":"bottom","anchor":"middle","frame":"group","fontSize":23.7,"fontWeight":"normal","offset":10,"dx":32},
"layer":[{"data":{"values":[{"x":0,"x2":300,"y":0,"y2":300}]},"mark":{"type":"rect","color":"black"},"encoding":{"x":{"field":"x","type":"quantitative","axis":null,"scale":{"domain":[0,300],"nice":false,"zero":false}},"x2":{"field":"x2"},"y":{"field":"y","type":"quantitative","axis":null,"scale":{"domain":[0,300],"range":[25,227],"nice":false,"zero":false}},"y2":{"field":"y2"}}},
{"data":{"name":"dline"},"mark":{"type":"rule","strokeWidth":1.1},"encoding":{"x":{"field":"x","type":"quantitative","axis":null},"x2":{"field":"x2"},"y":{"field":"y","type":"quantitative","axis":null},"y2":{"field":"y2"},"color":{"field":"v","type":"quantitative","legend":null,"scale":{"domain":[0,9158],"range":["#000000","#ffffff"]}}}}]},
{"width":12,"height":1,"data":{"values":[]},"mark":"rect","encoding":{}},
{"width":22,"height":252,"data":{"values":[{"lo":252,"hi":9158}]},"mark":{"type":"rect","color":{"gradient":"linear","x1":0,"y1":1,"x2":0,"y2":0,"stops":[{"offset":0,"color":"#000000"},{"offset":1,"color":"#ffffff"}]}},"encoding":{"y":{"field":"lo","type":"quantitative","title":null,"scale":{"domain":[252,9158],"nice":false,"zero":false},"axis":{"orient":"right","values":[1000,2000,3000,4000,5000,6000,7000,8000,9000],"format":"d","tickSize":2,"labelFontSize":11.2,"labelPadding":1,"domainColor":"#555","tickColor":"#555"}},"y2":{"field":"hi"}}},
{"width":103,"height":1,"data":{"values":[]},"mark":"rect","encoding":{}},
{"width":222,"height":252,"title":{"text":"(e) Covariance:MURA","orient":"bottom","anchor":"middle","frame":"group","fontSize":23.7,"fontWeight":"normal","offset":10,"dx":27},
"layer":[{"data":{"values":[{"x":0,"x2":300,"y":0,"y2":300}]},"mark":{"type":"rect","color":"black"},"encoding":{"x":{"field":"x","type":"quantitative","axis":null,"scale":{"domain":[0,300],"nice":false,"zero":false}},"x2":{"field":"x2"},"y":{"field":"y","type":"quantitative","axis":null,"scale":{"domain":[0,300],"range":[25,227],"nice":false,"zero":false}},"y2":{"field":"y2"}}},
{"data":{"name":"eband"},"mark":{"type":"rule","strokeWidth":4,"clip":true,"strokeCap":"butt"},"encoding":{"x":{"field":"x","type":"quantitative","axis":null},"x2":{"field":"x2"},"y":{"field":"y","type":"quantitative","axis":null},"y2":{"field":"y2"},"color":{"field":"v","type":"quantitative","legend":null,"scale":{"domain":[0,102],"range":["#000000","#ffffff"]}}}},
{"data":{"name":"eline"},"mark":{"type":"rule","strokeWidth":1},"encoding":{"x":{"field":"x","type":"quantitative","axis":null},"x2":{"field":"x2"},"y":{"field":"y","type":"quantitative","axis":null},"y2":{"field":"y2"},"color":{"field":"v","type":"quantitative","legend":null,"scale":{"domain":[0,102],"range":["#000000","#ffffff"]}}}},
{"data":{"values":[{"x":0,"x2":300,"y":-10,"y2":0},{"x":0,"x2":300,"y":300,"y2":310}]},"mark":{"type":"rect","color":"white"},"encoding":{"x":{"field":"x","type":"quantitative","axis":null},"x2":{"field":"x2"},"y":{"field":"y","type":"quantitative","axis":null},"y2":{"field":"y2"}}}]},
{"width":13,"height":1,"data":{"values":[]},"mark":"rect","encoding":{}},
{"width":22,"height":252,"data":{"values":[{"lo":0,"hi":102}]},"mark":{"type":"rect","color":{"gradient":"linear","x1":0,"y1":1,"x2":0,"y2":0,"stops":[{"offset":0,"color":"#000000"},{"offset":1,"color":"#ffffff"}]}},"encoding":{"y":{"field":"lo","type":"quantitative","title":null,"scale":{"domain":[0,102],"nice":false,"zero":false},"axis":{"orient":"right","values":[10,20,30,40,50,60,70,80,90,100],"tickSize":2,"labelFontSize":11.2,"labelPadding":1}},"y2":{"field":"hi"}}},
{"width":98,"height":1,"data":{"values":[]},"mark":"rect","encoding":{}},
{"width":227,"height":252,"title":{"text":"(f) Covariance:Ours","orient":"bottom","anchor":"middle","frame":"group","fontSize":23.7,"fontWeight":"normal","offset":10,"dx":22},
"layer":[{"data":{"values":[{"x":0,"x2":300,"y":0,"y2":300}]},"mark":{"type":"rect","color":"black"},"encoding":{"x":{"field":"x","type":"quantitative","axis":null,"scale":{"domain":[0,300],"nice":false,"zero":false}},"x2":{"field":"x2"},"y":{"field":"y","type":"quantitative","axis":null,"scale":{"domain":[0,300],"range":[25,227],"nice":false,"zero":false}},"y2":{"field":"y2"}}},
{"data":{"name":"fband"},"mark":{"type":"rule","strokeWidth":3,"clip":true,"strokeCap":"butt"},"encoding":{"x":{"field":"x","type":"quantitative","axis":null},"x2":{"field":"x2"},"y":{"field":"y","type":"quantitative","axis":null},"y2":{"field":"y2"},"color":{"field":"v","type":"quantitative","legend":null,"scale":{"domain":[0,77.4],"range":["#000000","#ffffff"]}}}},
{"data":{"name":"fline"},"mark":{"type":"rule","strokeWidth":1},"encoding":{"x":{"field":"x","type":"quantitative","axis":null},"x2":{"field":"x2"},"y":{"field":"y","type":"quantitative","axis":null},"y2":{"field":"y2"},"color":{"field":"v","type":"quantitative","legend":null,"scale":{"domain":[0,77.4],"range":["#000000","#ffffff"]}}}},
{"data":{"values":[{"x":0,"x2":300,"y":-10,"y2":0},{"x":0,"x2":300,"y":300,"y2":310}]},"mark":{"type":"rect","color":"white"},"encoding":{"x":{"field":"x","type":"quantitative","axis":null},"x2":{"field":"x2"},"y":{"field":"y","type":"quantitative","axis":null},"y2":{"field":"y2"}}}]},
{"width":13,"height":1,"data":{"values":[]},"mark":"rect","encoding":{}},
{"width":22,"height":252,"data":{"values":[{"lo":0,"hi":77.4}]},"mark":{"type":"rect","color":{"gradient":"linear","x1":0,"y1":1,"x2":0,"y2":0,"stops":[{"offset":0,"color":"#000000"},{"offset":1,"color":"#ffffff"}]}},"encoding":{"y":{"field":"lo","type":"quantitative","title":null,"scale":{"domain":[0,77.4],"nice":false,"zero":false},"axis":{"orient":"right","values":[10,20,30,40,50,60,70],"tickSize":2,"labelFontSize":11.2,"labelPadding":1}},"y2":{"field":"hi"}}},
{"width":119,"height":1,"data":{"values":[]},"mark":"rect","encoding":{}},
{"width":241,"height":252,"title":{"text":"(g) Log Singular Values","orient":"bottom","anchor":"middle","frame":"group","fontSize":23.7,"fontWeight":"normal","offset":6,"dx":-14},
"layer":[{"data":{"name":"g"},"mark":{"type":"line","strokeWidth":1.6},"encoding":{"x":{"field":"k","type":"quantitative","title":null,"scale":{"domain":[0,300],"nice":false,"zero":false},"axis":{"orient":"bottom","offset":-16,"values":[0,100,200,300],"tickSize":-3,"labelFontSize":12.6,"labelPadding":9}},"y":{"field":"y","type":"quantitative","title":null,"scale":{"domain":[-2.5,0],"range":[236,30],"nice":false,"zero":false},"axis":{"orient":"left","values":[-2.5,-2,-1.5,-1,-0.5,0],"format":"~g","tickSize":-3,"labelFontSize":12.6,"labelPadding":3}},"color":{"field":"s","type":"nominal","scale":{"domain":["Flat","MURA","Ours"],"range":["#ff0000","#00ff00","#0000ff"]},"legend":{"orient":"none","legendX":166,"legendY":37,"title":null,"strokeColor":"black","fillColor":"white","padding":2,"labelFontSize":13,"symbolSize":484,"symbolStrokeWidth":1.6,"symbolOffset":2,"clipHeight":15,"rowPadding":2.3,"zindex":1,"labelOffset":2,"labelColor":"#111"}}}},
{"data":{"values":[{"k":0,"y":0}]},"mark":{"type":"point","opacity":0},"encoding":{"x":{"field":"k","type":"quantitative","scale":{"domain":[0,300],"nice":false,"zero":false},"axis":{"orient":"top","offset":-30,"values":[0,100,200,300],"labels":false,"title":null,"tickSize":-3}},"y":{"field":"y","type":"quantitative","scale":{"domain":[-2.5,0],"range":[236,30],"nice":false,"zero":false},"axis":{"orient":"right","values":[-2.5,-2,-1.5,-1,-0.5,0],"labels":false,"title":null,"tickSize":-3}}}}],"resolve":{"axis":{"x":"independent","y":"independent"}}}
],"spacing":0,"bounds":"flush"}
],"spacing":26}
